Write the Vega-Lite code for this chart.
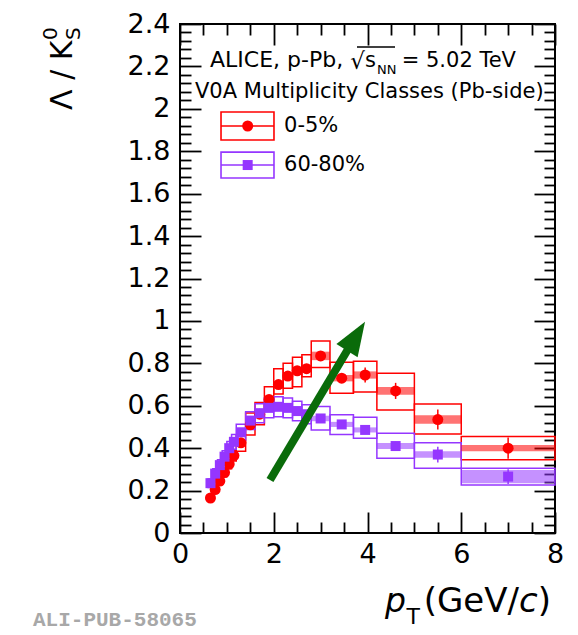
{
  "$schema": "https://vega.github.io/schema/vega-lite/v6.json",
  "width": 375,
  "height": 509,
  "autosize": {"type": "none"},
  "padding": {"left": 180, "top": 24, "right": 23, "bottom": 102},
  "background": "white",
  "config": {
    "view": {"stroke": "black", "strokeWidth": 2},
    "axis": {"domain": false, "grid": false, "tickColor": "black", "tickWidth": 1.8, "labelFont": "DejaVu Sans", "labelFontSize": 27, "labelColor": "black", "labelFlush": false, "labelOverlap": false, "title": null},
    "text": {"font": "DejaVu Sans", "color": "black", "align": "left", "baseline": "alphabetic"}
  },
  "data": {
    "values": [
      {"s": "0-5%", "lo": 0.6, "hi": 0.7, "pt": 0.65, "v": 0.165, "elo": 0.16, "ehi": 0.17, "slo": 0.152, "shi": 0.178, "hlo": null, "hhi": null},
      {"s": "0-5%", "lo": 0.7, "hi": 0.8, "pt": 0.75, "v": 0.205, "elo": 0.2, "ehi": 0.21, "slo": 0.19, "shi": 0.22, "hlo": null, "hhi": null},
      {"s": "0-5%", "lo": 0.8, "hi": 0.9, "pt": 0.85, "v": 0.245, "elo": 0.24, "ehi": 0.25, "slo": 0.228, "shi": 0.262, "hlo": null, "hhi": null},
      {"s": "0-5%", "lo": 0.9, "hi": 1.0, "pt": 0.95, "v": 0.285, "elo": 0.28, "ehi": 0.29, "slo": 0.265, "shi": 0.305, "hlo": null, "hhi": null},
      {"s": "0-5%", "lo": 1.0, "hi": 1.1, "pt": 1.05, "v": 0.325, "elo": 0.32, "ehi": 0.33, "slo": 0.303, "shi": 0.347, "hlo": null, "hhi": null},
      {"s": "0-5%", "lo": 1.1, "hi": 1.2, "pt": 1.15, "v": 0.365, "elo": 0.36, "ehi": 0.37, "slo": 0.34, "shi": 0.39, "hlo": null, "hhi": null},
      {"s": "0-5%", "lo": 1.2, "hi": 1.4, "pt": 1.3, "v": 0.425, "elo": 0.42, "ehi": 0.43, "slo": 0.385, "shi": 0.462, "hlo": null, "hhi": null},
      {"s": "0-5%", "lo": 1.4, "hi": 1.6, "pt": 1.5, "v": 0.51, "elo": 0.505, "ehi": 0.515, "slo": 0.462, "shi": 0.566, "hlo": null, "hhi": null},
      {"s": "0-5%", "lo": 1.6, "hi": 1.8, "pt": 1.7, "v": 0.56, "elo": 0.555, "ehi": 0.565, "slo": 0.51, "shi": 0.615, "hlo": null, "hhi": null},
      {"s": "0-5%", "lo": 1.8, "hi": 2.0, "pt": 1.9, "v": 0.63, "elo": 0.624, "ehi": 0.636, "slo": 0.575, "shi": 0.69, "hlo": null, "hhi": null},
      {"s": "0-5%", "lo": 2.0, "hi": 2.2, "pt": 2.1, "v": 0.7, "elo": 0.694, "ehi": 0.706, "slo": 0.655, "shi": 0.775, "hlo": null, "hhi": null},
      {"s": "0-5%", "lo": 2.2, "hi": 2.4, "pt": 2.3, "v": 0.74, "elo": 0.733, "ehi": 0.747, "slo": 0.683, "shi": 0.8, "hlo": null, "hhi": null},
      {"s": "0-5%", "lo": 2.4, "hi": 2.6, "pt": 2.5, "v": 0.765, "elo": 0.757, "ehi": 0.773, "slo": 0.69, "shi": 0.829, "hlo": null, "hhi": null},
      {"s": "0-5%", "lo": 2.6, "hi": 2.8, "pt": 2.7, "v": 0.775, "elo": 0.767, "ehi": 0.783, "slo": 0.737, "shi": 0.84, "hlo": null, "hhi": null},
      {"s": "0-5%", "lo": 2.8, "hi": 3.2, "pt": 3.0, "v": 0.835, "elo": 0.823, "ehi": 0.847, "slo": 0.78, "shi": 0.905, "hlo": 0.815, "hhi": 0.855},
      {"s": "0-5%", "lo": 3.2, "hi": 3.7, "pt": 3.45, "v": 0.73, "elo": 0.716, "ehi": 0.744, "slo": 0.659, "shi": 0.805, "hlo": 0.715, "hhi": 0.745},
      {"s": "0-5%", "lo": 3.7, "hi": 4.2, "pt": 3.95, "v": 0.745, "elo": 0.71, "ehi": 0.78, "slo": 0.665, "shi": 0.81, "hlo": 0.728, "hhi": 0.762},
      {"s": "0-5%", "lo": 4.2, "hi": 5.0, "pt": 4.6, "v": 0.67, "elo": 0.632, "ehi": 0.708, "slo": 0.58, "shi": 0.753, "hlo": 0.652, "hhi": 0.688},
      {"s": "0-5%", "lo": 5.0, "hi": 6.0, "pt": 5.5, "v": 0.535, "elo": 0.488, "ehi": 0.582, "slo": 0.467, "shi": 0.608, "hlo": 0.515, "hhi": 0.555},
      {"s": "0-5%", "lo": 6.0, "hi": 8.0, "pt": 7.0, "v": 0.4, "elo": 0.35, "ehi": 0.45, "slo": 0.345, "shi": 0.455, "hlo": 0.385, "hhi": 0.415},
      {"s": "60-80%", "lo": 0.6, "hi": 0.7, "pt": 0.65, "v": 0.235, "elo": 0.23, "ehi": 0.24, "slo": 0.215, "shi": 0.255, "hlo": null, "hhi": null},
      {"s": "60-80%", "lo": 0.7, "hi": 0.8, "pt": 0.75, "v": 0.28, "elo": 0.275, "ehi": 0.285, "slo": 0.257, "shi": 0.303, "hlo": null, "hhi": null},
      {"s": "60-80%", "lo": 0.8, "hi": 0.9, "pt": 0.85, "v": 0.32, "elo": 0.315, "ehi": 0.325, "slo": 0.295, "shi": 0.345, "hlo": null, "hhi": null},
      {"s": "60-80%", "lo": 0.9, "hi": 1.0, "pt": 0.95, "v": 0.36, "elo": 0.355, "ehi": 0.365, "slo": 0.332, "shi": 0.388, "hlo": null, "hhi": null},
      {"s": "60-80%", "lo": 1.0, "hi": 1.1, "pt": 1.05, "v": 0.4, "elo": 0.395, "ehi": 0.405, "slo": 0.368, "shi": 0.432, "hlo": null, "hhi": null},
      {"s": "60-80%", "lo": 1.1, "hi": 1.2, "pt": 1.15, "v": 0.43, "elo": 0.425, "ehi": 0.435, "slo": 0.395, "shi": 0.465, "hlo": null, "hhi": null},
      {"s": "60-80%", "lo": 1.2, "hi": 1.4, "pt": 1.3, "v": 0.475, "elo": 0.47, "ehi": 0.48, "slo": 0.437, "shi": 0.513, "hlo": null, "hhi": null},
      {"s": "60-80%", "lo": 1.4, "hi": 1.6, "pt": 1.5, "v": 0.53, "elo": 0.525, "ehi": 0.535, "slo": 0.488, "shi": 0.572, "hlo": null, "hhi": null},
      {"s": "60-80%", "lo": 1.6, "hi": 1.8, "pt": 1.7, "v": 0.565, "elo": 0.56, "ehi": 0.57, "slo": 0.52, "shi": 0.61, "hlo": null, "hhi": null},
      {"s": "60-80%", "lo": 1.8, "hi": 2.0, "pt": 1.9, "v": 0.59, "elo": 0.585, "ehi": 0.595, "slo": 0.543, "shi": 0.637, "hlo": null, "hhi": null},
      {"s": "60-80%", "lo": 2.0, "hi": 2.2, "pt": 2.1, "v": 0.595, "elo": 0.59, "ehi": 0.6, "slo": 0.548, "shi": 0.642, "hlo": null, "hhi": null},
      {"s": "60-80%", "lo": 2.2, "hi": 2.4, "pt": 2.3, "v": 0.59, "elo": 0.584, "ehi": 0.596, "slo": 0.543, "shi": 0.637, "hlo": null, "hhi": null},
      {"s": "60-80%", "lo": 2.4, "hi": 2.6, "pt": 2.5, "v": 0.575, "elo": 0.569, "ehi": 0.581, "slo": 0.529, "shi": 0.621, "hlo": null, "hhi": null},
      {"s": "60-80%", "lo": 2.6, "hi": 2.8, "pt": 2.7, "v": 0.56, "elo": 0.553, "ehi": 0.567, "slo": 0.515, "shi": 0.605, "hlo": null, "hhi": null},
      {"s": "60-80%", "lo": 2.8, "hi": 3.2, "pt": 3.0, "v": 0.54, "elo": 0.532, "ehi": 0.548, "slo": 0.486, "shi": 0.596, "hlo": 0.527, "hhi": 0.553},
      {"s": "60-80%", "lo": 3.2, "hi": 3.7, "pt": 3.45, "v": 0.512, "elo": 0.502, "ehi": 0.522, "slo": 0.465, "shi": 0.557, "hlo": 0.5, "hhi": 0.524},
      {"s": "60-80%", "lo": 3.7, "hi": 4.2, "pt": 3.95, "v": 0.486, "elo": 0.473, "ehi": 0.499, "slo": 0.447, "shi": 0.546, "hlo": 0.474, "hhi": 0.498},
      {"s": "60-80%", "lo": 4.2, "hi": 5.0, "pt": 4.6, "v": 0.41, "elo": 0.39, "ehi": 0.43, "slo": 0.352, "shi": 0.47, "hlo": 0.396, "hhi": 0.424},
      {"s": "60-80%", "lo": 5.0, "hi": 6.0, "pt": 5.5, "v": 0.37, "elo": 0.333, "ehi": 0.407, "slo": 0.305, "shi": 0.426, "hlo": 0.355, "hhi": 0.385},
      {"s": "60-80%", "lo": 6.0, "hi": 8.0, "pt": 7.0, "v": 0.266, "elo": 0.231, "ehi": 0.301, "slo": 0.226, "shi": 0.305, "hlo": 0.235, "hhi": 0.297}
    ]
  },
  "resolve": {"axis": {"x": "independent", "y": "independent"}},
  "layer": [
    {
      "mark": {"type": "rect", "filled": false, "strokeWidth": 1.5},
      "encoding": {
        "x": {"field": "lo", "type": "quantitative", "scale": {"domain": [0, 8], "nice": false, "zero": false},
              "axis": {"orient": "bottom", "values": [0, 2, 4, 6, 8], "tickSize": -21, "labelPadding": 29, "format": "~g"}},
        "x2": {"field": "hi"},
        "y": {"field": "slo", "type": "quantitative", "scale": {"domain": [0, 2.4], "nice": false, "zero": false},
              "axis": {"orient": "left", "values": [0, 0.2, 0.4, 0.6, 0.8, 1, 1.2, 1.4, 1.6, 1.8, 2, 2.2, 2.4], "tickSize": -21, "labelPadding": 31, "format": "~g"}},
        "y2": {"field": "shi"},
        "stroke": {"field": "s", "type": "nominal", "scale": {"domain": ["0-5%", "60-80%"], "range": ["#ff0000", "#9536ff"]}, "legend": null}
      }
    },
    {
      "transform": [{"filter": "datum.hlo != null"}],
      "mark": {"type": "rect", "opacity": 0.55, "strokeWidth": 0},
      "encoding": {
        "x": {"field": "lo", "type": "quantitative", "scale": {"domain": [0, 8]},
              "axis": {"orient": "bottom", "values": [0.5, 1, 1.5, 2.5, 3, 3.5, 4.5, 5, 5.5, 6.5, 7, 7.5], "tickSize": -11, "labels": false}},
        "x2": {"field": "hi"},
        "y": {"field": "hlo", "type": "quantitative", "scale": {"domain": [0, 2.4]},
              "axis": {"orient": "left", "values": [0.04, 0.08, 0.12, 0.16, 0.24, 0.28, 0.32, 0.36, 0.44, 0.48, 0.52, 0.56, 0.64, 0.68, 0.72, 0.76, 0.84, 0.88, 0.92, 0.96, 1.04, 1.08, 1.12, 1.16, 1.24, 1.28, 1.32, 1.36, 1.44, 1.48, 1.52, 1.56, 1.64, 1.68, 1.72, 1.76, 1.84, 1.88, 1.92, 1.96, 2.04, 2.08, 2.12, 2.16, 2.24, 2.28, 2.32, 2.36], "tickSize": -11, "labels": false}},
        "y2": {"field": "hhi"},
        "fill": {"field": "s", "type": "nominal", "scale": {"domain": ["0-5%", "60-80%"], "range": ["#ff0000", "#9536ff"]}, "legend": null}
      }
    },
    {
      "mark": {"type": "rule", "strokeWidth": 1.5},
      "encoding": {
        "x": {"field": "pt", "type": "quantitative", "scale": {"domain": [0, 8]},
              "axis": {"orient": "top", "values": [0, 2, 4, 6, 8], "tickSize": -21, "labels": false}},
        "y": {"field": "elo", "type": "quantitative", "scale": {"domain": [0, 2.4]},
              "axis": {"orient": "right", "values": [0, 0.2, 0.4, 0.6, 0.8, 1, 1.2, 1.4, 1.6, 1.8, 2, 2.2, 2.4], "tickSize": -21, "labels": false}},
        "y2": {"field": "ehi"},
        "stroke": {"field": "s", "type": "nominal", "scale": {"domain": ["0-5%", "60-80%"], "range": ["#ff0000", "#9536ff"]}, "legend": null}
      }
    },
    {
      "transform": [{"filter": "datum.s == '0-5%'"}],
      "mark": {"type": "point", "filled": true, "shape": "circle", "size": 121, "color": "#ff0000", "opacity": 1},
      "encoding": {
        "x": {"field": "pt", "type": "quantitative", "scale": {"domain": [0, 8]},
              "axis": {"orient": "top", "values": [0.5, 1, 1.5, 2.5, 3, 3.5, 4.5, 5, 5.5, 6.5, 7, 7.5], "tickSize": -11, "labels": false}},
        "y": {"field": "v", "type": "quantitative", "scale": {"domain": [0, 2.4]},
              "axis": {"orient": "right", "values": [0.04, 0.08, 0.12, 0.16, 0.24, 0.28, 0.32, 0.36, 0.44, 0.48, 0.52, 0.56, 0.64, 0.68, 0.72, 0.76, 0.84, 0.88, 0.92, 0.96, 1.04, 1.08, 1.12, 1.16, 1.24, 1.28, 1.32, 1.36, 1.44, 1.48, 1.52, 1.56, 1.64, 1.68, 1.72, 1.76, 1.84, 1.88, 1.92, 1.96, 2.04, 2.08, 2.12, 2.16, 2.24, 2.28, 2.32, 2.36], "tickSize": -11, "labels": false}}
      }
    },
    {
      "transform": [{"filter": "datum.s == '60-80%'"}],
      "mark": {"type": "point", "filled": true, "shape": "square", "size": 100, "color": "#9536ff", "opacity": 1},
      "encoding": {
        "x": {"field": "pt", "type": "quantitative", "scale": {"domain": [0, 8]}, "axis": null},
        "y": {"field": "v", "type": "quantitative", "scale": {"domain": [0, 2.4]}, "axis": null}
      }
    },
    {
      "data": {"values": [{}]},
      "mark": {"type": "rule", "strokeWidth": 8, "color": "#0a6b0a", "strokeCap": "butt"},
      "encoding": {
        "x": {"datum": 1.92, "type": "quantitative", "scale": {"domain": [0, 8]}, "axis": null},
        "y": {"datum": 0.25, "type": "quantitative", "scale": {"domain": [0, 2.4]}, "axis": null},
        "x2": {"datum": 3.631},
        "y2": {"datum": 0.884}
      }
    },
    {
      "data": {"values": [{}]},
      "mark": {"type": "point", "filled": true, "opacity": 1, "color": "#0a6b0a", "shape": "M0,-1L0.735,1L-0.735,1Z", "size": 1156, "angle": 32},
      "encoding": {
        "x": {"datum": 3.755, "type": "quantitative", "scale": {"domain": [0, 8]}, "axis": null},
        "y": {"datum": 0.928, "type": "quantitative", "scale": {"domain": [0, 2.4]}, "axis": null}
      }
    },
    {
      "data": {"values": [{}]},
      "mark": {"type": "rect", "filled": false, "strokeWidth": 1.6, "color": "#ff0000"},
      "encoding": {
        "x": {"datum": 0.875, "type": "quantitative", "scale": {"domain": [0, 8]}, "axis": null},
        "x2": {"datum": 2.005},
        "y": {"datum": 1.985, "type": "quantitative", "scale": {"domain": [0, 2.4]}, "axis": null},
        "y2": {"datum": 1.853}
      }
    },
    {
      "data": {"values": [{}]},
      "mark": {"type": "rule", "strokeWidth": 1.5, "color": "#ff0000"},
      "encoding": {
        "x": {"datum": 0.875, "type": "quantitative", "scale": {"domain": [0, 8]}, "axis": null},
        "x2": {"datum": 2.005},
        "y": {"datum": 1.919, "type": "quantitative", "scale": {"domain": [0, 2.4]}, "axis": null}
      }
    },
    {
      "data": {"values": [{}]},
      "mark": {"type": "point", "filled": true, "shape": "circle", "size": 121, "color": "#ff0000", "opacity": 1},
      "encoding": {
        "x": {"datum": 1.444, "type": "quantitative", "scale": {"domain": [0, 8]}, "axis": null},
        "y": {"datum": 1.919, "type": "quantitative", "scale": {"domain": [0, 2.4]}, "axis": null}
      }
    },
    {
      "data": {"values": [{}]},
      "mark": {"type": "text", "text": "0-5%", "fontSize": 21, "baseline": "middle"},
      "encoding": {
        "x": {"datum": 2.219, "type": "quantitative", "scale": {"domain": [0, 8]}, "axis": null},
        "y": {"datum": 1.919, "type": "quantitative", "scale": {"domain": [0, 2.4]}, "axis": null}
      }
    },
    {
      "data": {"values": [{}]},
      "mark": {"type": "rect", "filled": false, "strokeWidth": 1.6, "color": "#9536ff"},
      "encoding": {
        "x": {"datum": 0.875, "type": "quantitative", "scale": {"domain": [0, 8]}, "axis": null},
        "x2": {"datum": 2.005},
        "y": {"datum": 1.796, "type": "quantitative", "scale": {"domain": [0, 2.4]}, "axis": null},
        "y2": {"datum": 1.674}
      }
    },
    {
      "data": {"values": [{}]},
      "mark": {"type": "rule", "strokeWidth": 1.5, "color": "#9536ff"},
      "encoding": {
        "x": {"datum": 0.875, "type": "quantitative", "scale": {"domain": [0, 8]}, "axis": null},
        "x2": {"datum": 2.005},
        "y": {"datum": 1.735, "type": "quantitative", "scale": {"domain": [0, 2.4]}, "axis": null}
      }
    },
    {
      "data": {"values": [{}]},
      "mark": {"type": "point", "filled": true, "shape": "square", "size": 100, "color": "#9536ff", "opacity": 1},
      "encoding": {
        "x": {"datum": 1.444, "type": "quantitative", "scale": {"domain": [0, 8]}, "axis": null},
        "y": {"datum": 1.735, "type": "quantitative", "scale": {"domain": [0, 2.4]}, "axis": null}
      }
    },
    {
      "data": {"values": [{}]},
      "mark": {"type": "text", "text": "60-80%", "fontSize": 21, "baseline": "middle"},
      "encoding": {
        "x": {"datum": 2.219, "type": "quantitative", "scale": {"domain": [0, 8]}, "axis": null},
        "y": {"datum": 1.735, "type": "quantitative", "scale": {"domain": [0, 2.4]}, "axis": null}
      }
    },
    {
      "data": {"values": [{}]},
      "mark": {"type": "text", "text": "ALICE, p-Pb,", "fontSize": 22},
      "encoding": {
        "x": {"datum": 0.64, "type": "quantitative", "scale": {"domain": [0, 8]}, "axis": null},
        "y": {"datum": 2.199, "type": "quantitative", "scale": {"domain": [0, 2.4]}, "axis": null}
      }
    },
    {
      "data": {"values": [{}]},
      "mark": {"type": "text", "text": "√", "fontSize": 23},
      "encoding": {
        "x": {"datum": 3.63, "type": "quantitative", "scale": {"domain": [0, 8]}, "axis": null},
        "y": {"datum": 2.19, "type": "quantitative", "scale": {"domain": [0, 2.4]}, "axis": null}
      }
    },
    {
      "data": {"values": [{}]},
      "mark": {"type": "rule", "strokeWidth": 1.5, "color": "black"},
      "encoding": {
        "x": {"datum": 3.776, "type": "quantitative", "scale": {"domain": [0, 8]}, "axis": null},
        "y": {"datum": 2.292, "type": "quantitative", "scale": {"domain": [0, 2.4]}, "axis": null},
        "x2": {"datum": 4.587}
      }
    },
    {
      "data": {"values": [{}]},
      "mark": {"type": "text", "text": "s", "fontSize": 21},
      "encoding": {
        "x": {"datum": 3.947, "type": "quantitative", "scale": {"domain": [0, 8]}, "axis": null},
        "y": {"datum": 2.199, "type": "quantitative", "scale": {"domain": [0, 2.4]}, "axis": null}
      }
    },
    {
      "data": {"values": [{}]},
      "mark": {"type": "text", "text": "NN", "fontSize": 13},
      "encoding": {
        "x": {"datum": 4.203, "type": "quantitative", "scale": {"domain": [0, 8]}, "axis": null},
        "y": {"datum": 2.164, "type": "quantitative", "scale": {"domain": [0, 2.4]}, "axis": null}
      }
    },
    {
      "data": {"values": [{}]},
      "mark": {"type": "text", "text": "= 5.02 TeV", "fontSize": 21},
      "encoding": {
        "x": {"datum": 4.73, "type": "quantitative", "scale": {"domain": [0, 8]}, "axis": null},
        "y": {"datum": 2.199, "type": "quantitative", "scale": {"domain": [0, 2.4]}, "axis": null}
      }
    },
    {
      "data": {"values": [{}]},
      "mark": {"type": "text", "text": "V0A Multiplicity Classes (Pb-side)", "fontSize": 21},
      "encoding": {
        "x": {"datum": 0.32, "type": "quantitative", "scale": {"domain": [0, 8]}, "axis": null},
        "y": {"datum": 2.05, "type": "quantitative", "scale": {"domain": [0, 2.4]}, "axis": null}
      }
    },
    {
      "data": {"values": [{}]},
      "mark": {"type": "text", "text": "Λ / K", "fontSize": 30, "angle": 270},
      "encoding": {
        "x": {"datum": -2.304, "type": "quantitative", "scale": {"domain": [0, 8]}, "axis": null},
        "y": {"datum": 1.995, "type": "quantitative", "scale": {"domain": [0, 2.4]}, "axis": null}
      }
    },
    {
      "data": {"values": [{}]},
      "mark": {"type": "text", "text": "0", "fontSize": 20, "angle": 270},
      "encoding": {
        "x": {"datum": -2.624, "type": "quantitative", "scale": {"domain": [0, 8]}, "axis": null},
        "y": {"datum": 2.325, "type": "quantitative", "scale": {"domain": [0, 2.4]}, "axis": null}
      }
    },
    {
      "data": {"values": [{}]},
      "mark": {"type": "text", "text": "S", "fontSize": 20, "angle": 270},
      "encoding": {
        "x": {"datum": -2.133, "type": "quantitative", "scale": {"domain": [0, 8]}, "axis": null},
        "y": {"datum": 2.325, "type": "quantitative", "scale": {"domain": [0, 2.4]}, "axis": null}
      }
    },
    {
      "data": {"values": [{}]},
      "mark": {"type": "text", "text": "p", "fontSize": 33, "fontStyle": "italic"},
      "encoding": {
        "x": {"datum": 4.373, "type": "quantitative", "scale": {"domain": [0, 8]}, "axis": null},
        "y": {"datum": -0.3725, "type": "quantitative", "scale": {"domain": [0, 2.4]}, "axis": null}
      }
    },
    {
      "data": {"values": [{}]},
      "mark": {"type": "text", "text": "T", "fontSize": 22},
      "encoding": {
        "x": {"datum": 4.83, "type": "quantitative", "scale": {"domain": [0, 8]}, "axis": null},
        "y": {"datum": -0.429, "type": "quantitative", "scale": {"domain": [0, 2.4]}, "axis": null}
      }
    },
    {
      "data": {"values": [{}]},
      "mark": {"type": "text", "text": "(GeV/", "fontSize": 34},
      "encoding": {
        "x": {"datum": 5.2, "type": "quantitative", "scale": {"domain": [0, 8]}, "axis": null},
        "y": {"datum": -0.3725, "type": "quantitative", "scale": {"domain": [0, 2.4]}, "axis": null}
      }
    },
    {
      "data": {"values": [{}]},
      "mark": {"type": "text", "text": "c", "fontSize": 34, "fontStyle": "italic", "dx": 95.2},
      "encoding": {
        "x": {"datum": 5.2, "type": "quantitative", "scale": {"domain": [0, 8]}, "axis": null},
        "y": {"datum": -0.3725, "type": "quantitative", "scale": {"domain": [0, 2.4]}, "axis": null}
      }
    },
    {
      "data": {"values": [{}]},
      "mark": {"type": "text", "text": ")", "fontSize": 34, "dx": 113.9},
      "encoding": {
        "x": {"datum": 5.2, "type": "quantitative", "scale": {"domain": [0, 8]}, "axis": null},
        "y": {"datum": -0.3725, "type": "quantitative", "scale": {"domain": [0, 2.4]}, "axis": null}
      }
    },
    {
      "data": {"values": [{}]},
      "mark": {"type": "text", "text": "ALI-PUB-58065", "fontSize": 21, "font": "Liberation Mono", "fontWeight": "bold", "color": "#a8a8a8"},
      "encoding": {
        "x": {"datum": -3.136, "type": "quantitative", "scale": {"domain": [0, 8]}, "axis": null},
        "y": {"datum": -0.4385, "type": "quantitative", "scale": {"domain": [0, 2.4]}, "axis": null}
      }
    }
  ]
}
